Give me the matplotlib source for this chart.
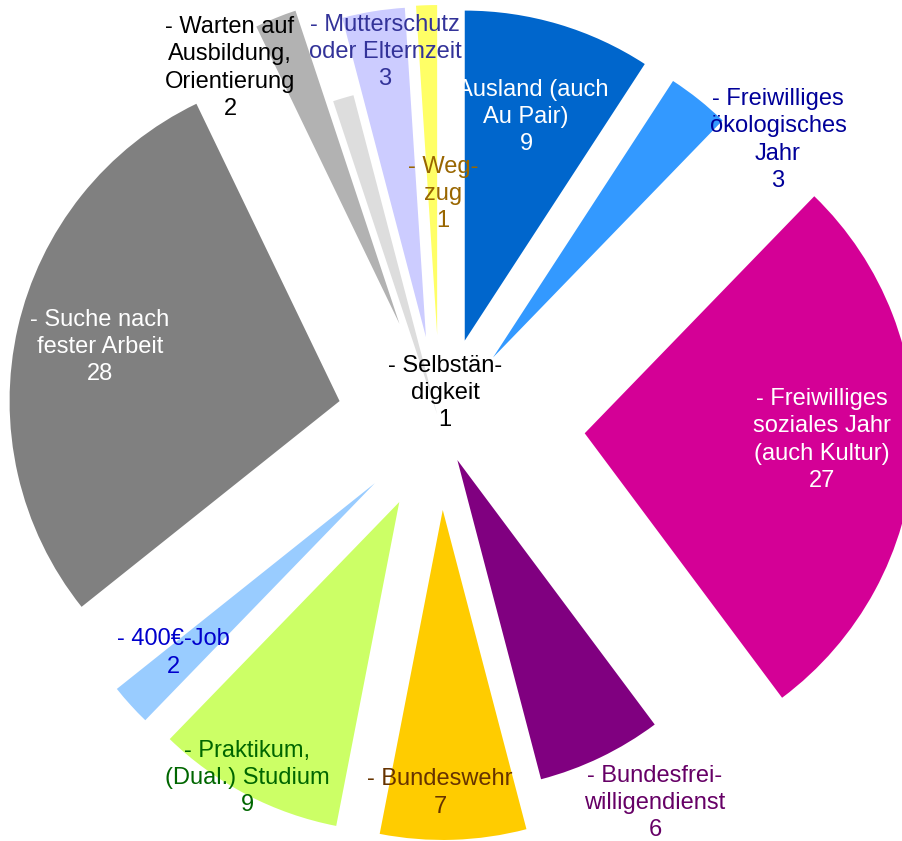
import matplotlib.pyplot as plt

labels = ['- Ausland (auch\nAu Pair)', '- Freiwilliges\nökologisches\nJahr',
          '- Freiwilliges\nsoziales Jahr\n(auch Kultur)', '- Bundesfrei-\nwilligendienst',
          '- Bundeswehr', '- Praktikum,\n(Dual.) Studium', '- 400€-Job',
          '- Suche nach\nfester Arbeit', '- Warten auf\nAusbildung,\nOrientierung',
          '- Selbstän-\ndigkeit', '- Mutterschutz\noder Elternzeit', '- Weg-\nzug']
values = [9, 3, 27, 6, 7, 9, 2, 28, 2, 1, 3, 1]

colors = ['#0066CC', '#3399FF', '#D40096', '#800080', '#FFCC00', '#CCFF66',
          '#99CCFF', '#808080', '#B2B2B2', '#DDDDDD', '#CCCCFF', '#FFFF66']
text_colors = ['white', '#000099', 'white', '#660066', '#663300', '#006600',
               '#0000CC', 'white', 'black', 'black', '#333399', '#996600']
# offsets of each slice in pixels (pie explode is in data units)
explode = [87, 85, 145, 40, 86, 88, 88, 103, 108, 10, 88, 89]

# label anchors in pixel coords (x, y from top)
label_xy = [(526, 117), (778, 140), (822, 440), (655, 803), (440, 793), (247, 778),
            (173, 653), (100, 347), (230, 68), (445, 393), (385, 52), (443, 194)]

W, H = 902, 841
fig = plt.figure(figsize=(W / 100, H / 100), dpi=100)
ax = fig.add_axes([0, 0, 1, 1])

ax.pie(values, explode=explode, colors=colors, startangle=90, counterclock=False,
       radius=330, center=(440, H - 424), wedgeprops={'linewidth': 0})

for lab, val, (x, y), c in zip(labels, values, label_xy, text_colors):
    ax.text(x, H - y, f'{lab}\n{val}', ha='center', va='center', color=c,
            fontsize=17, family='Liberation Sans', linespacing=1.31)

ax.set_xlim(0, W)
ax.set_ylim(0, H)
ax.set_aspect('equal')
ax.axis('off')

plt.savefig('out.png', dpi=100)
plt.close()
